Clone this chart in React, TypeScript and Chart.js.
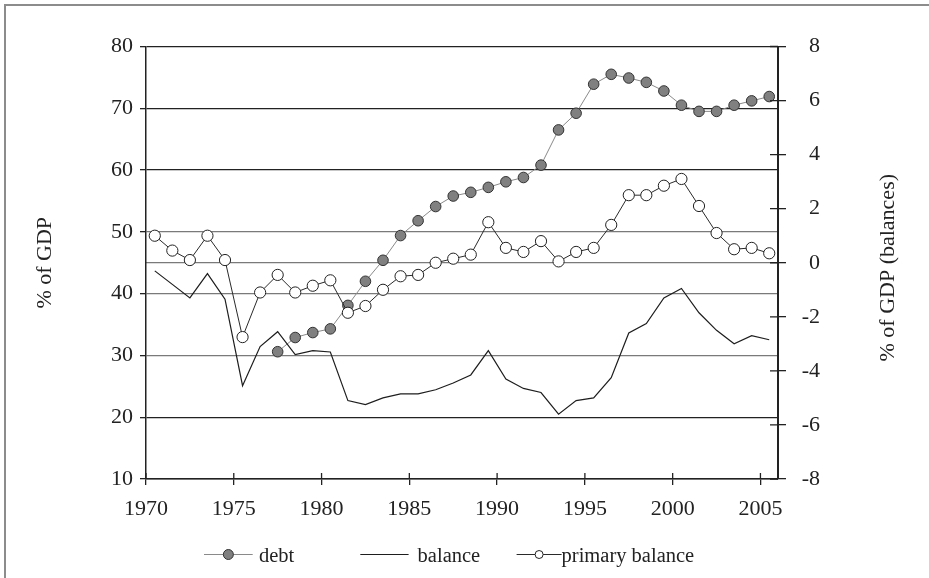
import React, { useEffect, useRef } from 'react';
import { Chart, registerables } from 'chart.js';

Chart.register(...registerables);

// ---- data ----
const years = [
  1970, 1971, 1972, 1973, 1974, 1975, 1976, 1977, 1978, 1979,
  1980, 1981, 1982, 1983, 1984, 1985, 1986, 1987, 1988, 1989,
  1990, 1991, 1992, 1993, 1994, 1995, 1996, 1997, 1998, 1999,
  2000, 2001, 2002, 2003, 2004, 2005,
];

// % of GDP (left axis)
const debt: (number | null)[] = [
  null, null, null, null, null, null, null, 30.6, 32.9, 33.7,
  34.3, 38.1, 42.0, 45.4, 49.4, 51.8, 54.1, 55.8, 56.4, 57.2,
  58.1, 58.8, 60.8, 66.5, 69.2, 73.9, 75.5, 74.9, 74.2, 72.8,
  70.5, 69.5, 69.5, 70.5, 71.2, 71.9,
];

// % of GDP (right axis)
const balance = [
  -0.3, -0.8, -1.3, -0.4, -1.35, -4.55, -3.1, -2.55, -3.4, -3.25,
  -3.3, -5.1, -5.25, -5.0, -4.85, -4.85, -4.7, -4.45, -4.15, -3.25,
  -4.3, -4.65, -4.8, -5.6, -5.1, -5.0, -4.25, -2.6, -2.25, -1.3,
  -0.95, -1.85, -2.5, -3.0, -2.7, -2.85,
];

const primaryBalance = [
  1.0, 0.45, 0.1, 1.0, 0.1, -2.75, -1.1, -0.45, -1.1, -0.85,
  -0.65, -1.85, -1.6, -1.0, -0.5, -0.45, 0.0, 0.15, 0.3, 1.5,
  0.55, 0.4, 0.8, 0.05, 0.4, 0.55, 1.4, 2.5, 2.5, 2.85,
  3.1, 2.1, 1.1, 0.5, 0.55, 0.35,
];

const xTickYears = [1970, 1975, 1980, 1985, 1990, 1995, 2000, 2005];
const leftTitle = '% of GDP';
const rightTitle = '% of GDP (balances)';
const seriesNames = ['debt', 'balance', 'primary balance'];

// ---- styles ----
const FONT_FAMILY = "'Liberation Serif', 'Times New Roman', serif";
const INK = '#222222';
const GRID_GRAY = '#7a7a7a';
const W = 929;
const H = 578;

function toPoints(values: (number | null)[]) {
  const pts: { x: number; y: number }[] = [];
  years.forEach((yr, i) => {
    const v = values[i];
    if (v !== null && v !== undefined) pts.push({ x: yr + 0.5, y: v });
  });
  return pts;
}

const framePlugin = {
  id: 'frame',
  beforeDraw(chart: any) {
    const { ctx } = chart;
    ctx.save();
    ctx.fillStyle = '#ffffff';
    ctx.fillRect(0, 0, chart.width, chart.height);
    ctx.fillStyle = '#8c8c8c';
    ctx.fillRect(4, 4, chart.width - 4, 2);
    ctx.fillRect(4, 4, 2, chart.height - 4);
    ctx.restore();
  },
};

const extrasPlugin = {
  id: 'extras',
  afterDraw(chart: any) {
    const { ctx, chartArea, scales } = chart;
    ctx.save();
    // inner halves of tick marks
    ctx.strokeStyle = INK;
    ctx.lineWidth = 1.3;
    ctx.beginPath();
    scales.x.ticks.forEach((t: any) => {
      const px = scales.x.getPixelForValue(t.value);
      ctx.moveTo(px, chartArea.bottom);
      ctx.lineTo(px, chartArea.bottom - 6);
    });
    scales.yR.ticks.forEach((t: any) => {
      const py = scales.yR.getPixelForValue(t.value);
      ctx.moveTo(chartArea.right, py);
      ctx.lineTo(chartArea.right - 8, py);
    });
    ctx.stroke();

    // right axis title (reads bottom to top)
    ctx.fillStyle = INK;
    ctx.font = `22px ${FONT_FAMILY}`;
    ctx.textAlign = 'center';
    ctx.textBaseline = 'middle';
    ctx.translate(888, (chartArea.top + chartArea.bottom) / 2 + 5);
    ctx.rotate(-Math.PI / 2);
    ctx.fillText(rightTitle, 0, 0);
    ctx.restore();

    // legend
    ctx.save();
    const ds = chart.data.datasets;
    const legendY = 554.5;
    const slotStart = 204;
    const slotStep = 156.3;
    const lineLens = [48.7, 48.3, 45];
    const textOffsets = [55, 57.3, 45];
    const markerR = [5, 0, 4];
    ctx.font = `20.5px ${FONT_FAMILY}`;
    ctx.textAlign = 'left';
    ctx.textBaseline = 'alphabetic';
    ds.forEach((d: any, i: number) => {
      const x0 = slotStart + i * slotStep;
      ctx.strokeStyle = d.borderColor;
      ctx.lineWidth = d.borderWidth;
      ctx.beginPath();
      ctx.moveTo(x0, legendY);
      ctx.lineTo(x0 + lineLens[i], legendY);
      ctx.stroke();
      if (markerR[i] > 0) {
        ctx.beginPath();
        ctx.arc(x0 + lineLens[i] / 2, legendY, markerR[i], 0, Math.PI * 2);
        ctx.fillStyle = d.pointBackgroundColor;
        ctx.fill();
        ctx.strokeStyle = d.pointBorderColor;
        ctx.lineWidth = 1;
        ctx.stroke();
      }
      ctx.fillStyle = INK;
      ctx.fillText(d.label, x0 + textOffsets[i], 561.5);
    });
    ctx.restore();
  },
};

export default function App() {
  const canvasRef = useRef<HTMLCanvasElement | null>(null);

  useEffect(() => {
    if (!canvasRef.current) return;
    const tickFont = { family: FONT_FAMILY, size: 22 };
    const chart = new Chart(canvasRef.current, {
      type: 'line',
      data: {
        datasets: [
          {
            label: seriesNames[0],
            data: toPoints(debt),
            yAxisID: 'yL',
            borderColor: '#8a8a8a',
            borderWidth: 1,
            pointRadius: 5.3,
            pointBackgroundColor: '#808080',
            pointBorderColor: '#333333',
            pointBorderWidth: 1,
            tension: 0,
            order: 2,
          },
          {
            label: seriesNames[1],
            data: toPoints(balance),
            yAxisID: 'yR',
            borderColor: '#1e1e1e',
            borderWidth: 1.2,
            pointRadius: 0,
            tension: 0,
            order: 1,
          },
          {
            label: seriesNames[2],
            data: toPoints(primaryBalance),
            yAxisID: 'yR',
            borderColor: '#2a2a2a',
            borderWidth: 1,
            pointRadius: 5.6,
            pointBackgroundColor: '#ffffff',
            pointBorderColor: '#222222',
            pointBorderWidth: 1,
            tension: 0,
            order: 0,
          },
        ],
      },
      options: {
        responsive: false,
        animation: false,
        layout: { padding: { left: 28, right: 109, top: 46.5, bottom: 0 } },
        plugins: {
          legend: { display: false },
          tooltip: { enabled: false },
        },
        scales: {
          x: {
            type: 'linear',
            position: 'bottom',
            min: 1970,
            max: 2006,
            afterBuildTicks: (scale: any) => {
              scale.ticks = xTickYears.map((v) => ({ value: v }));
            },
            afterFit: (scale: any) => {
              scale.height = 99;
            },
            ticks: {
              font: tickFont,
              color: INK,
              padding: 11,
              maxRotation: 0,
              autoSkip: false,
              callback: (v: any) => String(v),
            },
            grid: {
              display: true,
              drawOnChartArea: false,
              tickLength: 6,
              color: INK,
              lineWidth: 1.3,
            },
            border: { display: true, color: INK, width: 1.5 },
          },
          yL: {
            type: 'linear',
            position: 'left',
            min: 10,
            max: 80,
            afterFit: (scale: any) => {
              scale.width = 118;
            },
            ticks: { stepSize: 10, font: tickFont, color: INK, padding: 7 },
            grid: {
              color: (c: any) => {
                const v = c.tick ? c.tick.value : 0;
                return v === 30 || v === 40 || v === 50 ? GRID_GRAY : INK;
              },
              tickColor: INK,
              tickLength: 6,
              lineWidth: 1.3,
            },
            border: { color: INK, width: 1.5 },
            title: {
              display: true,
              text: leftTitle,
              font: { family: FONT_FAMILY, size: 22 },
              color: INK,
            },
          },
          yR: {
            type: 'linear',
            position: 'right',
            min: -8,
            max: 8,
            afterFit: (scale: any) => {
              scale.width = 42;
            },
            ticks: {
              stepSize: 2,
              font: tickFont,
              color: INK,
              padding: 12,
              crossAlign: 'far',
            },
            grid: {
              color: (c: any) =>
                c.tick && c.tick.value === 0 ? GRID_GRAY : 'rgba(0,0,0,0)',
              tickColor: INK,
              tickLength: 8,
              lineWidth: 1.3,
            },
            border: { color: INK, width: 2 },
          },
        },
      } as any,
      plugins: [framePlugin, extrasPlugin],
    });
    return () => chart.destroy();
  }, []);

  return (
    <div style={{ position: 'fixed', left: 0, top: 0, width: W, height: H, background: '#fff' }}>
      <canvas ref={canvasRef} width={W} height={H} style={{ display: 'block', width: W, height: H }} />
    </div>
  );
}
